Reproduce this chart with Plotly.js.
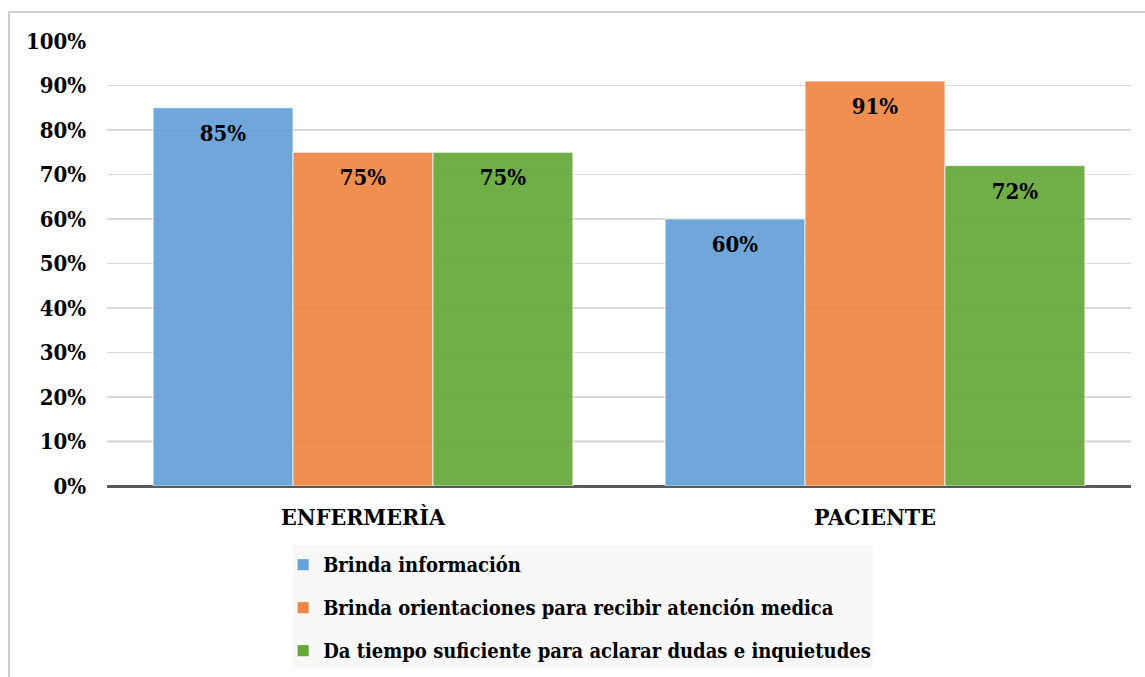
<!DOCTYPE html>
<html>
<head>
<meta charset="utf-8">
<script src="https://cdn.plot.ly/plotly-3.0.1.min.js"></script>
<style>html,body{margin:0;padding:0;background:#fff;}#chart{width:1145px;height:677px;}</style>
</head>
<body>
<div id="chart"></div>
<script>
const categories = ["ENFERMERÌA", "PACIENTE"];
const seriesNames = [
  "Brinda información",
  "Brinda orientaciones para recibir atención medica",
  "Da tiempo suficiente para aclarar dudas e inquietudes"
];
const brindaInformacion = [85, 60];
const brindaOrientaciones = [75, 91];
const daTiempo = [75, 72];
const seriesValues = [brindaInformacion, brindaOrientaciones, daTiempo];
const colors = ["#66a1d9", "#ef8743", "#66a83a"];
const yTicks = [0,10,20,30,40,50,60,70,80,90,100];

const font = "DejaVu Serif Condensed";
const traces = seriesValues.map((vals, i) => ({
  type: "bar",
  name: seriesNames[i],
  legendgroup: "g" + i,
  x: categories,
  y: vals,
  text: vals.map(v => "<span style='font-size:4px'>&nbsp;</span><br><span style='font-size:22px'>" + v + "%</span>"),
  textposition: "inside",
  insidetextanchor: "end",
  textangle: 0,
  textfont: {family: font, size: 20, color: "#000", weight: "bold"},
  constraintext: "none",
  marker: {color: colors[i], opacity: 0.93, line: {color: "rgba(255,255,255,0.8)", width: 1}},
  hoverinfo: "skip"
}));

const layout = {
  width: 1145, height: 677,
  margin: {l: 107, r: 14, t: 41, b: 191, autoexpand: false},
  paper_bgcolor: "#fff", plot_bgcolor: "#fff",
  barmode: "group", bargap: 0.18, bargroupgap: 0,
  font: {family: font, color: "#000"},
  xaxis: {
    type: "category",
    showgrid: false, showline: false, zeroline: false, ticks: "",
    ticklabelstandoff: 15,
    tickfont: {family: font, size: 23, color: "#000", weight: "bold"}
  },
  yaxis: {
    range: [0, 100],
    tickvals: yTicks,
    ticktext: yTicks.map(v => v + "%"),
    showgrid: true, gridcolor: "#d9d9d9", gridwidth: 1.5,
    zeroline: true, zerolinecolor: "#595959", zerolinewidth: 3,
    showline: false,
    ticklabelstandoff: 20,
    tickfont: {family: font, size: 22, color: "#000", weight: "bold"}
  },
  showlegend: true,
  legend: {
    x: 0.172, xanchor: "left",
    y: -0.133, yanchor: "top",
    orientation: "v",
    bgcolor: "rgba(0,0,0,0)",
    traceorder: "grouped",
    tracegroupgap: 14,
    itemwidth: 30,
    font: {family: font, size: 20, color: "#000", weight: "bold"}
  },
  shapes: [
    {type: "rect", xref: "paper", yref: "paper",
     x0: -0.0957, x1: 1.2, y0: -0.5, y1: 1.0652,
     line: {color: "#c0c0c0", width: 1.5}, fillcolor: "rgba(0,0,0,0)", layer: "below"},
    {type: "rect", xref: "paper", yref: "paper",
     x0: 0.1816, x1: 0.748, y0: -0.4067, y1: -0.1326,
     line: {width: 0}, fillcolor: "#f8f8f8", layer: "below"},
    {type: "line", xref: "x domain", yref: "y",
     x0: 0, x1: 1, y0: yTicks[1], y1: yTicks[1],
     line: {color: "#9a9a9a", width: 1.5}, layer: "below"}
  ]
};

Plotly.newPlot("chart", traces, layout, {displayModeBar: false, staticPlot: true});
</script>
</body>
</html>
